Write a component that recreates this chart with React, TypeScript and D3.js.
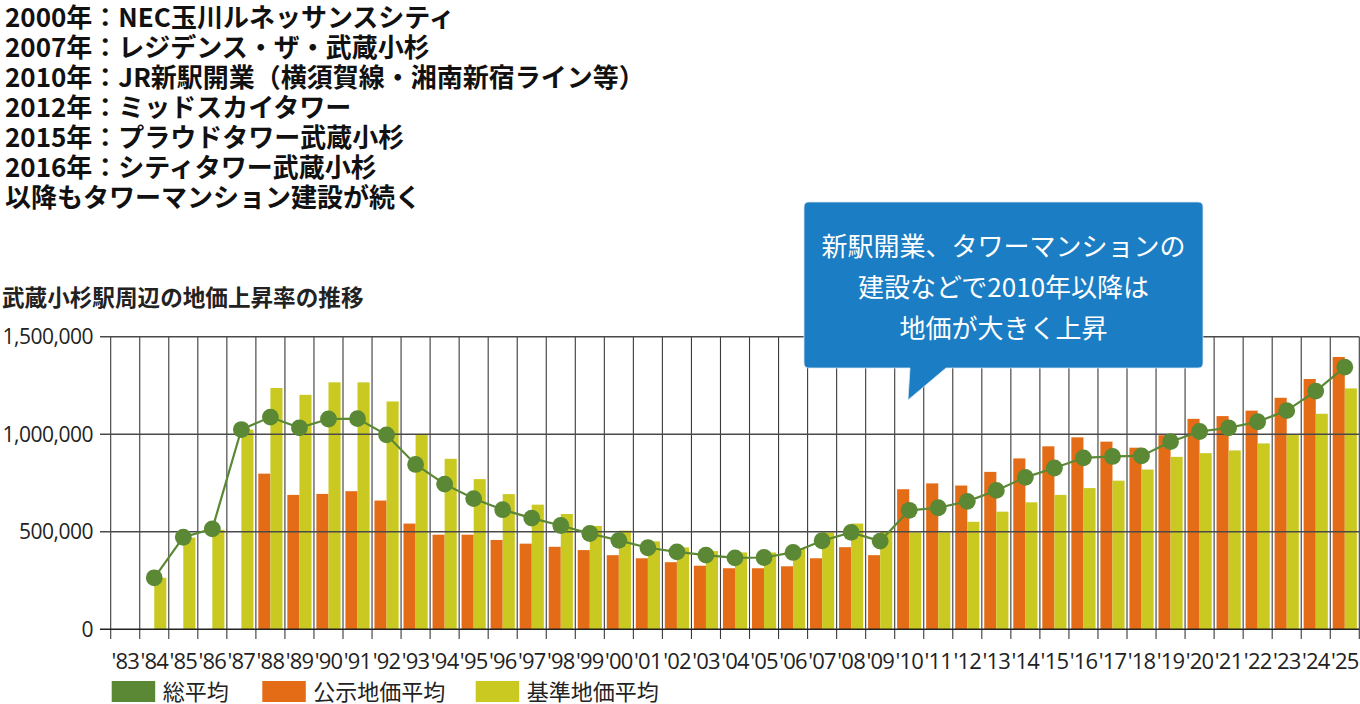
import React from "react";
import * as d3 from "d3";

// ---- data (values in yen) ----
const years = [
  "'83","'84","'85","'86","'87","'88","'89","'90","'91","'92","'93","'94","'95","'96","'97","'98","'99",
  "'00","'01","'02","'03","'04","'05","'06","'07","'08","'09","'10","'11","'12","'13","'14","'15","'16",
  "'17","'18","'19","'20","'21","'22","'23","'24","'25",
];
// 総平均 (thousand yen)
const totalAvg: (number | null)[] = [
  null, 264, 472, 515, 1024, 1088, 1033, 1078, 1080, 997, 845, 744, 670, 613, 570, 532, 491,
  456, 418, 397, 380, 366, 368, 394, 454, 497, 452, 610, 623, 656, 712, 779, 827, 879,
  886, 889, 962, 1014, 1033, 1064, 1121, 1221, 1344,
];
// 公示地価平均
const publicAvg: (number | null)[] = [
  null, null, null, null, null, 798, 689, 694, 708, 660, 542, 485, 485, 458, 439, 423, 406,
  380, 364, 344, 326, 313, 313, 323, 364, 421, 380, 718, 748, 737, 807, 876, 938, 984,
  962, 931, 995, 1079, 1093, 1121, 1187, 1283, 1396,
];
// 基準地価平均
const standardAvg: (number | null)[] = [
  null, 264, 470, 510, 1024, 1237, 1202, 1266, 1266, 1168, 997, 874, 770, 693, 639, 591, 530,
  506, 451, 420, 401, 394, 394, 416, 497, 542, 501, 497, 497, 551, 603, 651, 689, 724,
  762, 819, 884, 903, 917, 953, 997, 1105, 1235,
];
const yTicks = [0, 500000, 1000000, 1500000];
const seriesNames = ["総平均", "公示地価平均", "基準地価平均"];
const notes = [
  "2000年：NEC玉川ルネッサンスシティ",
  "2007年：レジデンス・ザ・武蔵小杉",
  "2010年：JR新駅開業（横須賀線・湘南新宿ライン等）",
  "2012年：ミッドスカイタワー",
  "2015年：プラウドタワー武蔵小杉",
  "2016年：シティタワー武蔵小杉",
  "以降もタワーマンション建設が続く",
];
const chartTitle = "武蔵小杉駅周辺の地価上昇率の推移";
const calloutLines = ["新駅開業、タワーマンションの", "建設などで2010年以降は", "地価が大きく上昇"];

const GREEN = "#5a8834";
const ORANGE = "#e46c16";
const YELLOW = "#cac922";
const BLUE = "#1b7dc3";

const W = 1360, H = 704;
const plotLeft = 110.7, plotRight = 1359.3, plotTop = 336.7, plotBottom = 629.3;

const JP = "'Noto Sans CJK JP', 'Noto Sans', sans-serif";
const NUM = "'Open Sans', 'Noto Sans', sans-serif";

export default function App() {
  const x = d3.scaleBand<string>().domain(years).range([plotLeft, plotRight]).paddingInner(0).paddingOuter(0);
  const sub = d3.scaleBand<string>().domain(["pub", "std"]).range([0, x.bandwidth()]).paddingInner(0).paddingOuter(0.2);
  const y = d3.scaleLinear().domain([0, 1500000]).range([plotBottom, plotTop]);

  const pts = years
    .map((yr, i) => ({ yr, v: totalAvg[i] }))
    .filter((d) => d.v != null) as { yr: string; v: number }[];
  const line = d3
    .line<{ yr: string; v: number }>()
    .x((d) => (x(d.yr) as number) + x.bandwidth() / 2)
    .y((d) => y(d.v * 1000));

  const boundaries = d3.range(years.length + 1).map((i) => plotLeft + i * x.step());

  // callout shape
  const bx0 = 804, bx1 = 1203, by0 = 202, by1 = 368, r = 5;
  const calloutPath = [
    `M${bx0 + r},${by0}`,
    `H${bx1 - r}`,
    `Q${bx1},${by0} ${bx1},${by0 + r}`,
    `V${by1 - r}`,
    `Q${bx1},${by1} ${bx1 - r},${by1}`,
    `H946`,
    `L908,400`,
    `L910,${by1}`,
    `H${bx0 + r}`,
    `Q${bx0},${by1} ${bx0},${by1 - r}`,
    `V${by0 + r}`,
    `Q${bx0},${by0} ${bx0 + r},${by0}`,
    "Z",
  ].join(" ");

  const legendItems = [
    { name: seriesNames[0], color: GREEN, x: 111.7 },
    { name: seriesNames[1], color: ORANGE, x: 262.3 },
    { name: seriesNames[2], color: YELLOW, x: 475.7 },
  ];

  return (
    <div style={{ position: "fixed", left: 0, top: 0, width: W, height: H, background: "#fff" }}>
      <svg width={W} height={H} viewBox={`0 0 ${W} ${H}`} style={{ display: "block" }}>
        {/* notes */}
        {notes.map((t, i) => (
          <text key={i} x={5} y={27 + i * 30} fontFamily={JP} fontWeight={700} fontSize={26} fill="#111">
            {t}
          </text>
        ))}
        {/* title */}
        <text x={2} y={306} fontFamily={JP} fontWeight={700} fontSize={22.6} fill="#222">
          {chartTitle}
        </text>

        {/* bars */}
        {years.map((yr, i) => {
          const x0 = x(yr) as number;
          const p = publicAvg[i];
          const s = standardAvg[i];
          return (
            <g key={yr}>
              {p != null && (
                <rect x={x0 + (sub("pub") as number)} y={y(p * 1000)} width={sub.bandwidth()} height={plotBottom - y(p * 1000)} fill={ORANGE} />
              )}
              {s != null && (
                <rect x={x0 + (sub("std") as number)} y={y(s * 1000)} width={sub.bandwidth()} height={plotBottom - y(s * 1000)} fill={YELLOW} />
              )}
            </g>
          );
        })}

        {/* vertical grid / ticks */}
        {boundaries.map((bx, i) => (
          <line key={i} x1={bx} x2={bx} y1={plotTop} y2={639} stroke="#3a3a3a" strokeWidth={1.1} />
        ))}
        {/* horizontal grid */}
        {yTicks.map((t) => (
          <g key={t}>
            <line x1={100} x2={plotRight} y1={y(t)} y2={y(t)} stroke={t === 0 ? "#222" : "#4a4a4a"} strokeWidth={1.6} />
            <text x={93} y={y(t)} dy="0.36em" textAnchor="end" fontFamily={NUM} fontSize={21} letterSpacing="-0.5" fill="#222">
              {d3.format(",")(t)}
            </text>
          </g>
        ))}

        {/* x labels */}
        {years.map((yr) => (
          <text
            key={yr}
            x={(x(yr) as number) + x.bandwidth() / 2}
            y={669}
            textAnchor="middle"
            fontFamily={NUM}
            fontSize={22}
            letterSpacing="-0.8"
            fill="#222"
          >
            {yr}
          </text>
        ))}

        {/* total average line */}
        <path d={line(pts) || ""} fill="none" stroke={GREEN} strokeWidth={2.2} />
        {pts.map((d) => (
          <circle key={d.yr} cx={(x(d.yr) as number) + x.bandwidth() / 2} cy={y(d.v * 1000)} r={8.4} fill={GREEN} />
        ))}

        {/* callout */}
        <path d={calloutPath} fill={BLUE} stroke="#d8e6f2" strokeWidth={0.8} />
        {calloutLines.map((t, i) => (
          <text key={i} x={1003.5} y={256 + i * 41} textAnchor="middle" fontFamily={JP} fontSize={26} fill="#fff">
            {t}
          </text>
        ))}

        {/* legend */}
        {legendItems.map((it) => (
          <g key={it.name}>
            <rect x={it.x} y={681} width={43.5} height={21} fill={it.color} />
            <text x={it.x + 51} y={699.5} fontFamily={JP} fontSize={22} fill="#222">
              {it.name}
            </text>
          </g>
        ))}
      </svg>
    </div>
  );
}
